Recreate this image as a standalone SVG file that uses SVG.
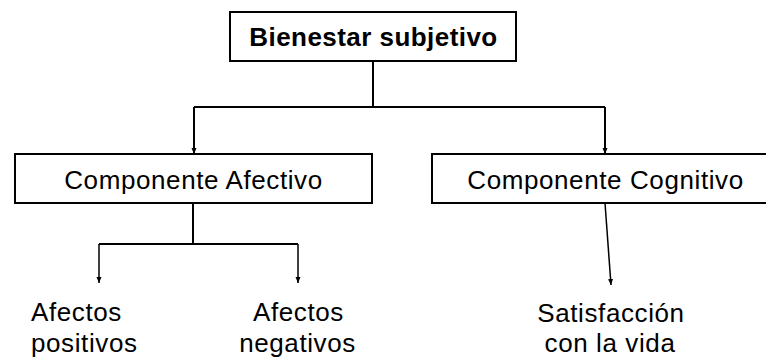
<svg xmlns="http://www.w3.org/2000/svg" width="766" height="358" viewBox="0 0 766 358">
<style>
.box{fill:#fff;stroke:#000;stroke-width:2}
.t{font-family:"Liberation Sans",Arial,sans-serif;font-size:26px;letter-spacing:0.6px;fill:#000}
.b{font-weight:bold;letter-spacing:0.45px}
.c{fill:none;stroke:#000;stroke-width:2}
.a{fill:none;stroke:#000;stroke-width:1.5}
</style>
<defs>
<marker id="ah" markerUnits="userSpaceOnUse" markerWidth="7" markerHeight="6" refX="6" refY="3" orient="auto" viewBox="0 0 7 6">
<path d="M0,0.5 L6,3 L0,5.5 z" fill="#000"/>
</marker>
</defs>
<rect width="766" height="358" fill="#fff"/>
<g id="connectors">
<path class="c" d="M373,61 V107 M194,107 H605"/>
<path class="c" d="M194,107 V154" marker-end="url(#ah)"/>
<path class="c" d="M605,107 V154" marker-end="url(#ah)"/>
<path class="c" d="M193,203 V244 M99,244 H298"/>
<path class="a" d="M99,244 V283" marker-end="url(#ah)"/>
<path class="a" d="M298,244 V283" marker-end="url(#ah)"/>
<path class="a" d="M605,203 L611,285" marker-end="url(#ah)"/>
</g>
<g id="bienestar">
<rect class="box" x="230" y="12" width="286" height="49"/>
<text class="t b" x="373.5" y="46" text-anchor="middle">Bienestar subjetivo</text>
</g>
<g id="afectivo">
<rect class="box" x="15" y="154" width="357" height="49"/>
<text class="t" x="193.5" y="189" text-anchor="middle">Componente Afectivo</text>
</g>
<g id="cognitivo">
<rect class="box" x="432" y="154" width="350" height="49"/>
<text class="t" x="605.5" y="189" text-anchor="middle">Componente Cognitivo</text>
</g>
<g id="positivos">
<text class="t" x="31" y="321">Afectos</text>
<text class="t" x="31" y="352">positivos</text>
</g>
<g id="negativos">
<text class="t" x="298.5" y="321" text-anchor="middle">Afectos</text>
<text class="t" x="297.5" y="352" text-anchor="middle">negativos</text>
</g>
<g id="satisfaccion">
<text class="t" x="611" y="322" text-anchor="middle">Satisfacción</text>
<text class="t" x="610" y="352" text-anchor="middle">con la vida</text>
</g>
</svg>
